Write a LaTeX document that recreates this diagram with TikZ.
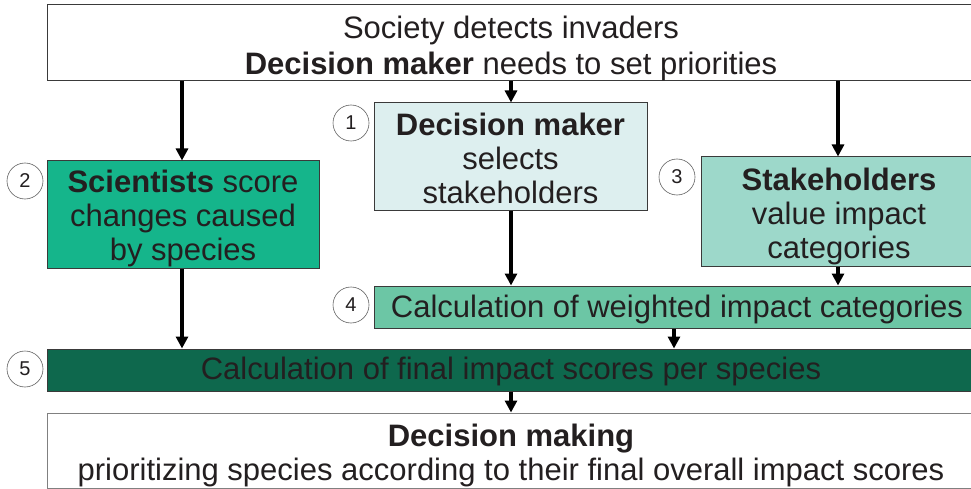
\documentclass[tikz,border=0pt]{standalone}
\usepackage{fontspec}
\setmainfont{Liberation Sans}
\usetikzlibrary{arrows.meta}
\definecolor{txt}{HTML}{231F20}
\definecolor{bordc}{HTML}{3A3A3A}
\definecolor{cA}{HTML}{DDEFEF}
\definecolor{cB}{HTML}{15B58B}
\definecolor{cC}{HTML}{9DD8CA}
\definecolor{cD}{HTML}{6CC6A5}
\definecolor{cE}{HTML}{0E684D}
\tikzset{
  box/.style={draw=bordc, line width=1pt, rectangle, inner sep=0pt},
  lbl/.style={align=center, text=txt, inner sep=0pt, font=\fontsize{31}{34}\selectfont},
  numc/.style={draw=bordc!80, line width=0.6pt, circle, minimum size=36pt, inner sep=0pt,
    text=txt, font=\fontsize{20}{24}\selectfont},
  arr/.style={line width=3.2pt, -{Triangle[length=12pt,width=12pt]}, black}
}
\begin{document}
\begin{tikzpicture}[x=1pt,y=-1pt]
\useasboundingbox (0,0) rectangle (971,489);
\clip (0,0) rectangle (971,489);
% boxes
\node[box, fill=white, minimum width=928pt, minimum height=76pt] (top) at (511,43) {};
\node[lbl] (topt) at ([yshift=-5pt]top.center)
  {Society detects invaders\\[2pt]\textbf{Decision maker} needs to set priorities};
\node[box, fill=cA, minimum width=273pt, minimum height=107pt] (dm) at (510.5,156.5) {};
\node[lbl] (dmt) at ([yshift=-2pt]dm.center) {\textbf{Decision maker}\\selects\\stakeholders};
\node[box, fill=cB, minimum width=272pt, minimum height=107pt] (sci) at (183,214.5) {};
\node[lbl] (scit) at ([yshift=-4pt]sci.center) {\textbf{Scientists} score\\changes caused\\by species};
\node[box, fill=cC, minimum width=276pt, minimum height=109pt] (stk) at (839,211.5) {};
\node[lbl] (stkt) at ([yshift=-5pt]stk.center) {\textbf{Stakeholders}\\value impact\\categories};
\node[box, fill=cD, minimum width=606pt, minimum height=42pt] (wic) at (677,307) {};
\node[lbl] (wict) at ([yshift=-2pt]wic.center) {Calculation of weighted impact categories};
\node[box, fill=cE, minimum width=928pt, minimum height=42pt] (fin) at (511,370) {};
\node[lbl] (fint) at ([yshift=-1pt]fin.center) {Calculation of final impact scores per species};
\node[box, draw=gray, fill=white, minimum width=928pt, minimum height=75pt] (dec) at (511,450.5) {};
\node[lbl] (dect) at ([yshift=-5pt]dec.center)
  {\textbf{Decision making}\\prioritizing species according to their final overall impact scores};
% number circles
\node[numc] (n1) at (351,123) {1};
\node[numc] (n2) at (25,181) {2};
\node[numc] (n3) at (677,177) {3};
\node[numc] (n4) at (351,305) {4};
\node[numc] (n5) at (25,369) {5};
% arrow columns
\coordinate (xa) at (182,0);
\coordinate (xb) at (511,0);
\coordinate (xc) at (838,0);
\coordinate (xd) at (674,0);
\draw[arr] (top.south -| xa) -- (sci.north -| xa);
\draw[arr] (top.south -| xb) -- (dm.north -| xb);
\draw[arr] (top.south -| xc) -- (stk.north -| xc);
\draw[arr] (dm.south -| xb) -- (wic.north -| xb);
\draw[arr] (stk.south -| xc) -- (wic.north -| xc);
\draw[arr] (sci.south -| xa) -- (fin.north -| xa);
\draw[arr] (wic.south -| xd) -- (fin.north -| xd);
\draw[arr] (fin.south -| xb) -- (dec.north -| xb);
\end{tikzpicture}
\end{document}
